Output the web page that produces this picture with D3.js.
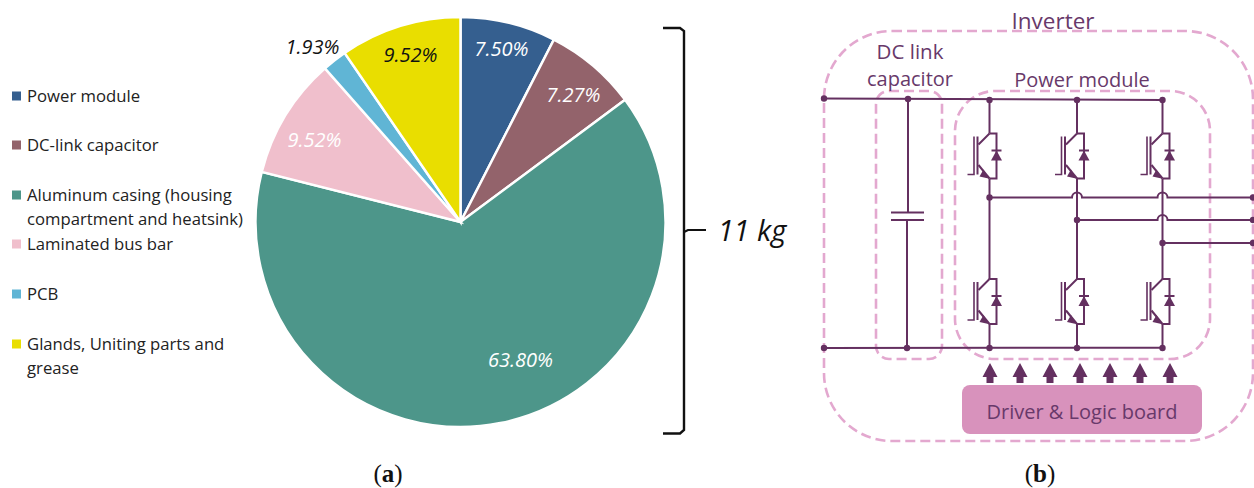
<!DOCTYPE html>
<html><head><meta charset="utf-8">
<script src="https://cdn.jsdelivr.net/npm/d3@7"></script>
<style>html,body{margin:0;padding:0;background:#fff}svg{display:block}text{font-family:"Open Sans",Lato,sans-serif}</style>
</head><body><svg id="c" width="1254" height="488"></svg>
<script>
// ---- data ----
const categories = ["Power module","DC-link capacitor","Aluminum casing","Laminated bus bar","PCB","Glands"];
const shares = [7.50,7.27,63.80,9.52,1.93,9.52];
const shareLabels = ["7.50%","7.27%","63.80%","9.52%","1.93%","9.52%"];
const sliceColors = ["#355f8f","#93636b","#4d968a","#f0bfcc","#60b5d5","#e9de00"];
const labelColors = ["#fff","#fff","#fff","#fff","#111","#111"];
const legendLines = [["Power module"],["DC-link capacitor"],["Aluminum casing (housing","compartment and heatsink)"],["Laminated bus bar"],["PCB"],["Glands, Uniting parts and","grease"]];
const totalLabel = "11 kg";

// ---- layout (not data) ----
const svg = d3.select("#c");
const cx=460.5, cy=222, R=205;
const labelOffset = [[41,-173],[113,-127],[60,138],[-146,-82],[-148,-175],[-50,-167]];
const legendY = [96,145,195,244,294,344];
const ink="#643060", dash="#e3a8cf";

// pie
const pie = d3.pie().value(d=>d).sort(null);
const arc = d3.arc().innerRadius(0).outerRadius(R);
const gp = svg.append("g").attr("transform",`translate(${cx},${cy})`);
gp.selectAll("path").data(pie(shares)).join("path").attr("d",arc)
  .attr("fill",(d,i)=>sliceColors[i]).attr("stroke","#fff").attr("stroke-width",2.5);
gp.selectAll("text").data(shareLabels).join("text").text(d=>d)
  .attr("x",(d,i)=>labelOffset[i][0]).attr("y",(d,i)=>labelOffset[i][1]+7)
  .attr("text-anchor","middle").attr("font-style","italic").attr("font-size",20)
  .attr("fill",(d,i)=>labelColors[i]);

// legend
const gl = svg.append("g");
legendLines.forEach((lines,i)=>{
  gl.append("rect").attr("x",12).attr("y",legendY[i]-4.5).attr("width",9).attr("height",9).attr("fill",sliceColors[i]);
  lines.forEach((t,j)=>gl.append("text").text(t).attr("x",27).attr("y",legendY[i]+5.5+j*24).attr("font-size",16.7).attr("fill","#222"));
});

// bracket
svg.append("path").attr("fill","none").attr("stroke","#111").attr("stroke-width",2.4)
  .attr("d",d3.line()([[663,28],[680,28],[684,31],[684,430],[680,433.5],[663,433.5]]));
svg.append("path").attr("fill","none").attr("stroke","#111").attr("stroke-width",2.2).attr("d",d3.line()([[684,232],[688,230],[706,230]]));
svg.append("text").text(totalLabel).attr("x",752).attr("y",241).attr("text-anchor","middle").attr("font-style","italic").attr("font-size",29).attr("fill","#111");

// circuit
const gc = svg.append("g").attr("fill","none").attr("stroke",ink).attr("stroke-width",2);
const L = d3.line();
const dashed=(x,y,w,h,r)=>svg.insert("rect","g").attr("x",x).attr("y",y).attr("width",w).attr("height",h).attr("rx",r)
  .attr("fill","none").attr("stroke",dash).attr("stroke-width",2.6).attr("stroke-dasharray","10 5");
dashed(824,31,429,410,68); dashed(876,91,66,268,13); dashed(955,91,255,268,40);

const cols=[989.5,1077,1162.5];
const node=(x,y)=>svg.append("circle").attr("cx",x).attr("cy",y).attr("r",3.2).attr("fill",ink);
gc.append("path").attr("d",L([[824,98.5],[1162.5,100]]));
gc.append("path").attr("d",L([[824,348],[1162.5,347.7]]));
[[824,98.5],[908,99],[989.5,100],[1077,100],[1162.5,100],[824,348],[907,348],[989.5,348],[1077,348],[1162.5,348]].forEach(p=>node(...p));
// capacitor
gc.append("path").attr("d",L([[908,99],[908,212]]));
gc.append("path").attr("d",L([[891,212.5],[924,212.5]]));
gc.append("path").attr("d",L([[891,220],[924,220]]));
gc.append("path").attr("d",L([[907,220],[907,348]]));

function igbt(x,top){
  const g=gc.append("g").attr("transform",`translate(${x},${top})`);
  g.append("path").attr("d",L([[0,0],[7,0],[7,45],[0,45]]));
  g.append("path").attr("d",L([[0,0],[-11,11]]));
  g.append("path").attr("d",L([[-11,31.5],[0,45]]));
  g.append("path").attr("d",L([[-12,3],[-12,41]]));
  g.append("path").attr("d",L([[-15.5,3],[-15.5,41],[-22,41]])).attr("stroke-width",1.6);
  g.append("path").attr("d",L([[2,17],[12,17]]));
  g.append("path").attr("d",L([[7,17],[1.5,27],[12.5,27]])+"Z").attr("fill",ink).attr("stroke","none");
  g.append("path").attr("d",L([[-6,36],[-1,45],[-10,43]])+"Z").attr("fill",ink).attr("stroke","none");
}
cols.forEach((x,i)=>{
  igbt(x,133.5); igbt(x,279);
  gc.append("path").attr("d",L([[x,100],[x,133.5]]));
  gc.append("path").attr("d",L([[x,178.5],[x,279]]));
  gc.append("path").attr("d",L([[x,324],[x,348]]));
});
// outputs with hops
function hopLine(x0,y,x1,hops){
  let d=`M${x0},${y}`;
  hops.forEach(h=>{d+=`L${h-5},${y}A5,5 0 0 1 ${h+5},${y}`});
  d+=`L${x1},${y}`;
  gc.append("path").attr("d",d);
  node(x0,y); node(x1,y);
}
hopLine(cols[0],197.5,1253,[cols[1],cols[2]]);
hopLine(cols[1],220,1253,[cols[2]]);
hopLine(cols[2],243,1253,[]);

// gate arrows
[990,1020,1050,1080,1110,1140,1170].forEach(x=>{
  svg.append("path").attr("fill",ink).attr("d",L([[x,363],[x+7.5,377],[x+3.5,377],[x+3.5,383],[x-3.5,383],[x-3.5,377],[x-7.5,377]])+"Z");
});
svg.append("rect").attr("x",962).attr("y",385).attr("width",240).attr("height",49).attr("rx",8).attr("fill","#d892bc");
const tx=(t,x,y,s)=>svg.append("text").text(t).attr("x",x).attr("y",y).attr("text-anchor","middle").attr("font-size",s).attr("fill","#68396a");
tx("Driver & Logic board",1082,419,20);
tx("Inverter",1053,29,22.5);
tx("DC link",910,59,20.5);
tx("capacitor",910,86,20);
tx("Power module",1082,87,20);

// captions
[["a",388],["b",1040]].forEach(([c,x])=>{
  const t=svg.append("text").attr("x",x).attr("y",482).attr("text-anchor","middle").attr("font-size",25).attr("fill","#111").style("font-family","'Liberation Serif',serif");
  t.append("tspan").text("(");
  t.append("tspan").text(c).attr("font-weight","bold");
  t.append("tspan").text(")");
});
</script></body></html>
